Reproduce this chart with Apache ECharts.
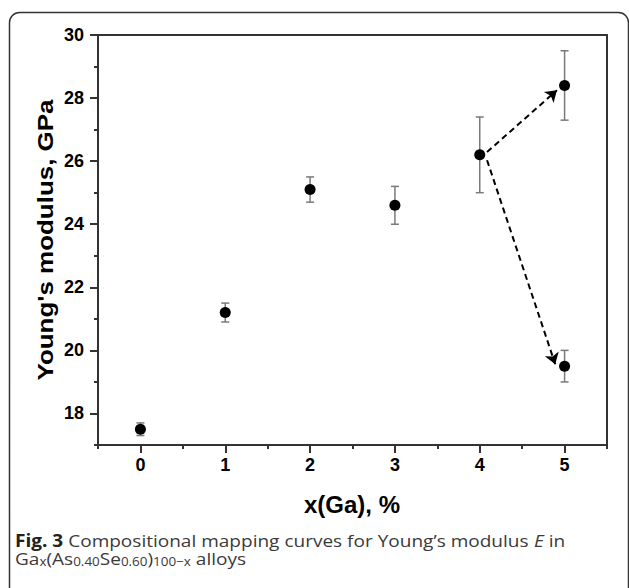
<!DOCTYPE html>
<html>
<head>
<meta charset="utf-8">
<script src="https://cdn.jsdelivr.net/npm/echarts@6/dist/echarts.min.js"></script>
<style>html,body{margin:0;padding:0;background:#fff;}#c{width:629px;height:588px;}</style>
</head>
<body>
<div id="c"></div>
<script>
// ---- data ----
var xValues = [0, 1, 2, 3, 4, 5, 5];
var yValues = [17.5, 21.2, 25.1, 24.6, 26.2, 28.4, 19.5];
var yErrors = [0.2, 0.3, 0.4, 0.6, 1.2, 1.1, 0.5];
var xTickLabels = [0, 1, 2, 3, 4, 5];
var yTickLabels = [18, 20, 22, 24, 26, 28, 30];
// arrows (data coordinates): [start, end]
var arrowUp = [[4.086, 26.29], [4.91, 28.25]];
var arrowDown = [[4.086, 26.03], [4.89, 19.56]];

var points = xValues.map(function (x, i) { return [x, yValues[i]]; });
var errData = xValues.map(function (x, i) { return [x, yValues[i], yErrors[i]]; });

var chart = echarts.init(document.getElementById('c'), null, { renderer: 'svg' });
var axisColor = '#333';
var labelFont = { fontFamily: 'Liberation Sans, Arial, sans-serif', fontWeight: 'bold', fontSize: 18, color: '#000' };

chart.setOption({
  animation: false,
  grid: { left: 98, right: 22, top: 35, bottom: 143, containLabel: false },
  xAxis: [
    {
      type: 'value', position: 'bottom', min: -0.5, max: 5.5, interval: 0.5,
      axisLine: { show: true, onZero: false, lineStyle: { color: axisColor, width: 2 } },
      axisTick: { show: true, length: 4, lineStyle: { color: axisColor, width: 2 } },
      axisLabel: Object.assign({ customValues: xTickLabels, margin: 11 }, labelFont),
      splitLine: { show: false }
    },
    {
      type: 'value', position: 'bottom', min: -0.5, max: 5.5, interval: 0.5,
      axisLine: { show: false, onZero: false },
      axisTick: { show: true, length: 8, customValues: xTickLabels, lineStyle: { color: axisColor, width: 2 } },
      axisLabel: { show: false },
      splitLine: { show: false }
    },
    {
      type: 'value', position: 'top', min: -0.5, max: 5.5,
      axisLine: { show: true, onZero: false, lineStyle: { color: axisColor, width: 2 } },
      axisTick: { show: false }, axisLabel: { show: false }, splitLine: { show: false }
    }
  ],
  yAxis: [
    {
      type: 'value', position: 'left', min: 17, max: 30, interval: 1,
      axisLine: { show: true, onZero: false, lineStyle: { color: axisColor, width: 2 } },
      axisTick: { show: true, length: 4, lineStyle: { color: axisColor, width: 2 } },
      axisLabel: Object.assign({ customValues: yTickLabels, margin: 14 }, labelFont),
      splitLine: { show: false }
    },
    {
      type: 'value', position: 'left', min: 17, max: 30, interval: 1,
      axisLine: { show: false, onZero: false },
      axisTick: { show: true, length: 8, customValues: yTickLabels, lineStyle: { color: axisColor, width: 2 } },
      axisLabel: { show: false },
      splitLine: { show: false }
    },
    {
      type: 'value', position: 'right', min: 17, max: 30,
      axisLine: { show: true, onZero: false, lineStyle: { color: axisColor, width: 2 } },
      axisTick: { show: false }, axisLabel: { show: false }, splitLine: { show: false }
    }
  ],
  series: [
    {
      type: 'custom', xAxisIndex: 0, yAxisIndex: 0, z: 2,
      data: errData,
      renderItem: function (params, api) {
        var x = api.value(0), y = api.value(1), e = api.value(2);
        var top = api.coord([x, y + e]);
        var bot = api.coord([x, y - e]);
        var hw = 4;
        var st = { stroke: '#7a7a7a', lineWidth: 1.5 };
        return {
          type: 'group',
          children: [
            { type: 'line', shape: { x1: top[0], y1: top[1], x2: bot[0], y2: bot[1] }, style: st },
            { type: 'line', shape: { x1: top[0] - hw, y1: top[1], x2: top[0] + hw, y2: top[1] }, style: st },
            { type: 'line', shape: { x1: bot[0] - hw, y1: bot[1], x2: bot[0] + hw, y2: bot[1] }, style: st }
          ]
        };
      }
    },
    {
      type: 'scatter', xAxisIndex: 0, yAxisIndex: 0, z: 3,
      symbol: 'circle', symbolSize: 11,
      itemStyle: { color: '#000', opacity: 1 },
      data: points,
      markLine: {
        silent: true,
        symbol: ['none', 'arrow'],
        symbolSize: 11,
        label: { show: false },
        lineStyle: { color: '#000', width: 2, type: [6, 4], opacity: 1 },
        itemStyle: { color: '#000' },
        emphasis: { disabled: true },
        data: [
          [{ coord: arrowUp[0] }, { coord: arrowUp[1] }],
          [{ coord: arrowDown[0] }, { coord: arrowDown[1] }]
        ]
      }
    }
  ],
  graphic: [
    {
      type: 'rect', silent: true, z: -1,
      shape: { x: 9.5, y: 12.5, width: 619, height: 600, r: 10 },
      style: { fill: 'none', stroke: '#333', lineWidth: 1.5 }
    },
    {
      type: 'text', x: 45, y: 240, rotation: Math.PI / 2, scaleX: 1.18,
      style: {
        text: "Young's modulus, GPa", fontFamily: 'Liberation Sans, Arial, sans-serif',
        fontWeight: 'bold', fontSize: 22, fill: '#000', textAlign: 'center', textVerticalAlign: 'middle'
      }
    },
    {
      type: 'text', x: 352, y: 504,
      style: {
        text: 'x(Ga), %', fontFamily: 'Liberation Sans, Arial, sans-serif',
        fontWeight: 'bold', fontSize: 24, fill: '#000', textAlign: 'center', textVerticalAlign: 'middle'
      }
    },
    {
      type: 'text', x: 15, y: 531, scaleX: 1.12,
      style: {
        text: '{b|Fig. 3} Compositional mapping curves for Young\u2019s modulus {i|E} in\nGa{s|x}(As{s|0.40}Se{s|0.60}){s|100\u2212x} alloys',
        fontFamily: 'Open Sans, sans-serif', fontSize: 17, lineHeight: 18, fill: '#3a3a3a',
        textAlign: 'left', textVerticalAlign: 'top',
        rich: {
          b: { fontFamily: 'Open Sans, sans-serif', fontWeight: 'bold', fontSize: 17, lineHeight: 18, fill: '#222' },
          i: { fontFamily: 'Open Sans, sans-serif', fontStyle: 'italic', fontSize: 17, lineHeight: 18, fill: '#3a3a3a' },
          s: { fontFamily: 'Open Sans, sans-serif', fontSize: 12, lineHeight: 4, verticalAlign: 'bottom', fill: '#3a3a3a' }
        }
      }
    }
  ]
});
</script>
</body>
</html>
